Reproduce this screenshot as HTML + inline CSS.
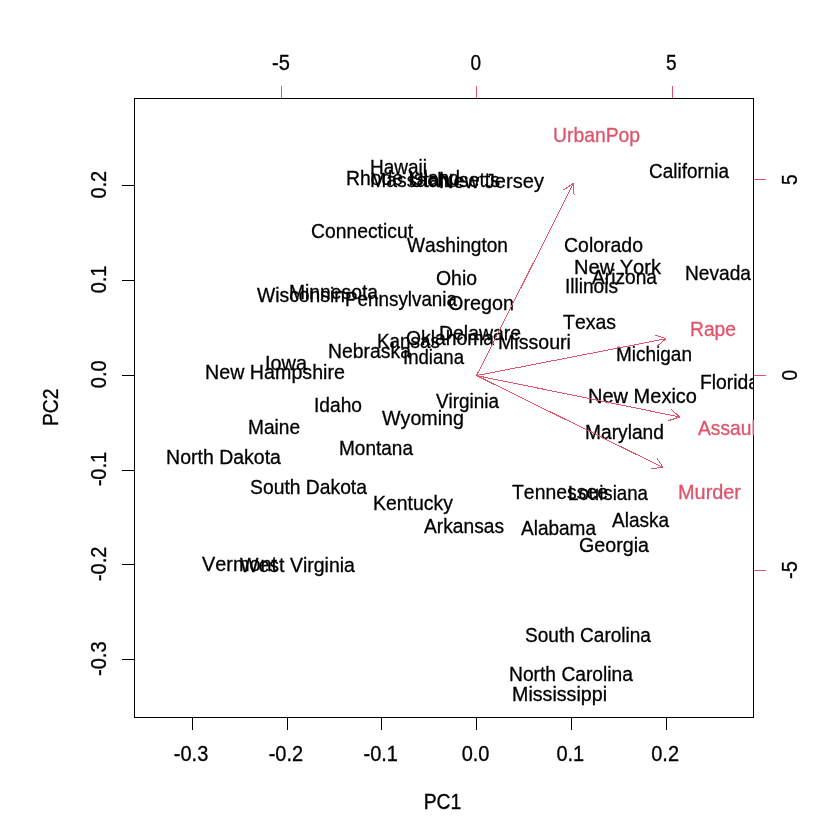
<!DOCTYPE html>
<html lang="en"><head><meta charset="utf-8"><title>PCA biplot</title>
<style>html,body{margin:0;padding:0;background:#fff}body{width:840px;height:840px;overflow:hidden}svg{display:block}text{font-family:"Liberation Sans", Arial, Helvetica, sans-serif;font-size:20px;font-kerning:none;text-anchor:middle;stroke-width:0.3px}.k{fill:#000;stroke:#000}.r{fill:#DF536B;stroke:#DF536B}.ln{fill:none;stroke-width:1;shape-rendering:crispEdges}</style></head><body>
<svg width="840" height="840" viewBox="0 0 840 840">
<rect width="840" height="840" fill="#fff"/>
<defs><clipPath id="cp"><rect x="134" y="98" width="620" height="620"/></clipPath></defs>
<g clip-path="url(#cp)"><g class="k">
<text transform="translate(558.5 535) scale(0.95 1.03)">Alabama</text>
<text transform="translate(640.5 527) scale(0.95 1.03)">Alaska</text>
<text transform="translate(624.5 284) scale(0.959 1.03)">Arizona</text>
<text transform="translate(464 533) scale(0.96 1.03)">Arkansas</text>
<text transform="translate(689 178) scale(0.947 1.03)">California</text>
<text transform="translate(603.5 252) scale(0.973 1.03)">Colorado</text>
<text transform="translate(362 238) scale(0.966 1.03)">Connecticut</text>
<text transform="translate(480 340) scale(0.971 1.03)">Delaware</text>
<text transform="translate(729.5 389) scale(0.965 1.03)">Florida</text>
<text transform="translate(614 552) scale(0.984 1.03)">Georgia</text>
<text transform="translate(398.5 174) scale(0.95 1.03)">Hawaii</text>
<text transform="translate(338 412) scale(0.959 1.03)">Idaho</text>
<text transform="translate(591.5 293) scale(0.954 1.03)">Illinois</text>
<text transform="translate(433.5 364) scale(0.93 1.03)">Indiana</text>
<text transform="translate(286 370) scale(0.994 1.03)">Iowa</text>
<text transform="translate(408.5 348) scale(0.944 1.03)">Kansas</text>
<text transform="translate(413 510) scale(0.972 1.03)">Kentucky</text>
<text transform="translate(608 500) scale(0.934 1.03)">Louisiana</text>
<text transform="translate(274 434) scale(0.955 1.03)">Maine</text>
<text transform="translate(624.5 439) scale(0.96 1.03)">Maryland</text>
<text transform="translate(435 187) scale(0.975 1.03)">Massachusetts</text>
<text transform="translate(654 361) scale(0.95 1.03)">Michigan</text>
<text transform="translate(333.5 299) scale(0.965 1.03)">Minnesota</text>
<text transform="translate(559.5 701) scale(0.983 1.03)">Mississippi</text>
<text transform="translate(534.5 349) scale(0.98 1.03)">Missouri</text>
<text transform="translate(376 455) scale(0.951 1.03)">Montana</text>
<text transform="translate(369.5 358) scale(0.97 1.03)">Nebraska</text>
<text transform="translate(718 280) scale(0.957 1.03)">Nevada</text>
<text transform="translate(275 379) scale(0.984 1.03)">New Hampshire</text>
<text transform="translate(491.5 188) scale(1.005 1.03)">New Jersey</text>
<text transform="translate(642.5 403) scale(1.001 1.03)">New Mexico</text>
<text transform="translate(617.5 274) scale(1.004 1.03)">New York</text>
<text transform="translate(571 681) scale(0.962 1.03)">North Carolina</text>
<text transform="translate(223.5 464) scale(0.976 1.03)">North Dakota</text>
<text transform="translate(456.5 285) scale(0.971 1.03)">Ohio</text>
<text transform="translate(450 345) scale(0.965 1.03)">Oklahoma</text>
<text transform="translate(481 310) scale(0.989 1.03)">Oregon</text>
<text transform="translate(401 306) scale(0.941 1.03)">Pennsylvania</text>
<text transform="translate(403 185) scale(0.967 1.03)">Rhode Island</text>
<text transform="translate(588 642) scale(0.952 1.03)">South Carolina</text>
<text transform="translate(308.5 494) scale(0.965 1.03)">South Dakota</text>
<text transform="translate(560 499) scale(0.97 1.03)">Tennessee</text>
<text transform="translate(589.5 329) scale(0.973 1.03)">Texas</text>
<text transform="translate(430 187) scale(0.947 1.03)">Utah</text>
<text transform="translate(239.5 571) scale(0.992 1.03)">Vermont</text>
<text transform="translate(467.5 408) scale(0.945 1.03)">Virginia</text>
<text transform="translate(457.5 252) scale(0.956 1.03)">Washington</text>
<text transform="translate(297.5 572) scale(0.976 1.03)">West Virginia</text>
<text transform="translate(301 302) scale(0.966 1.03)">Wisconsin</text>
<text transform="translate(423 425) scale(0.984 1.03)">Wyoming</text>
</g></g>
<g class="ln" stroke="#000">
<path d="M192.5 717.5H666.5M192.5 717V730M287.5 717V730M381.5 717V730M476.5 717V730M571.5 717V730M666.5 717V730M134.5 659.5V185.5M135 659.5H122M135 564.5H122M135 470.5H122M135 375.5H122M135 280.5H122M135 185.5H122"/></g>
<g class="k">
<text transform="translate(191.08 760.8) scale(1 1.06)">-0.3</text>
<text transform="translate(285.89 760.8) scale(1 1.06)">-0.2</text>
<text transform="translate(380.7 760.8) scale(1 1.06)">-0.1</text>
<text transform="translate(475.52 760.8) scale(1 1.06)">0.0</text>
<text transform="translate(570.33 760.8) scale(1 1.06)">0.1</text>
<text transform="translate(665.14 760.8) scale(1 1.06)">0.2</text>
<text transform="translate(105.9 658.72) rotate(-90) scale(1 1.06)">-0.3</text>
<text transform="translate(105.9 563.91) rotate(-90) scale(1 1.06)">-0.2</text>
<text transform="translate(105.9 469.1) rotate(-90) scale(1 1.06)">-0.1</text>
<text transform="translate(105.9 374.28) rotate(-90) scale(1 1.06)">0.0</text>
<text transform="translate(105.9 279.47) rotate(-90) scale(1 1.06)">0.1</text>
<text transform="translate(105.9 184.66) rotate(-90) scale(1 1.06)">0.2</text>
<text transform="translate(442.5 809) scale(0.967 1.06)">PC1</text>
<text transform="translate(58.3 407.3) rotate(-90) scale(0.967 1.06)">PC2</text>
<text transform="translate(281 70) scale(1 1.06)">-5</text>
<text transform="translate(475.72 70) scale(0.95 1.06)">0</text>
<text transform="translate(671.23 70) scale(0.95 1.06)">5</text>
<text transform="translate(796.9 570) rotate(-90) scale(1 1.06)">-5</text>
<text transform="translate(796.9 375.28) rotate(-90) scale(0.95 1.06)">0</text>
<text transform="translate(796.9 179.77) rotate(-90) scale(0.95 1.06)">5</text>
</g>
<g class="ln" stroke="#DF536B">
<path d="M281.5 98.5H672.5M281.5 99V86M476.5 99V86M672.5 99V86M753.5 570.5V179.5M753 570.5H766M753 375.5H766M753 179.5H766"/></g>
<rect class="ln" stroke="#000" x="134.5" y="98.5" width="619" height="619"/>
<g clip-path="url(#cp)"><g class="r">
<text transform="translate(709.5 499) scale(0.994 1.03)">Murder</text>
<text transform="translate(729.5 435) scale(0.961 1.03)">Assault</text>
<text transform="translate(596.5 142) scale(0.966 1.03)">UrbanPop</text>
<text transform="translate(713 336) scale(0.962 1.03)">Rape</text>
</g></g>
<g clip-path="url(#cp)" class="ln" stroke="#DF536B">
<path d="M476.52 375.58L663.2 467.61M651.23 468.4L663.2 467.61M656.54 457.63L663.2 467.61M476.52 375.58L679.68 416.95M668.3 420.76L679.68 416.95M670.69 409L679.68 416.95M476.52 375.58L573.43 183.51M574.1 195.49L573.43 183.51M563.39 190.08L573.43 183.51M476.52 375.58L665.83 338.76M656.77 346.64L665.83 338.76M654.48 334.86L665.83 338.76"/></g>
</svg></body></html>
